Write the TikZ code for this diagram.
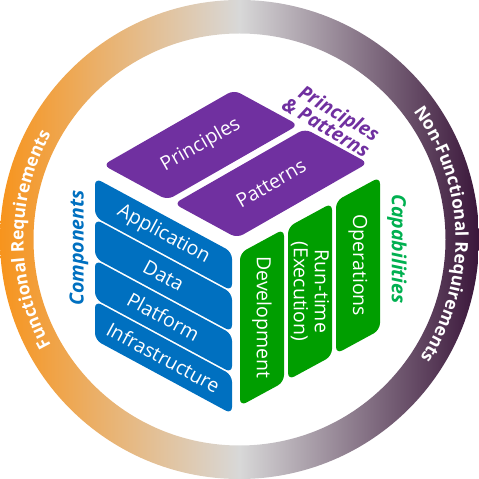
\documentclass[tikz,border=0pt]{standalone}
\usepackage{fontspec}
\setmainfont{Open Sans}
\usetikzlibrary{decorations.text}

\begin{document}
\begin{tikzpicture}[x=1pt,y=1pt,
  slabtext/.style={text=white,font=\fontsize{19.5}{21}\selectfont,inner sep=0pt},
  sidelabel/.style={font=\fontsize{19.5}{19}\selectfont\bfseries\itshape,inner sep=0pt},
  ringtext/.style={decorate,decoration={text along path,text align=center,text color=white,text={#1}}}]
%
\useasboundingbox (0,0) rectangle (479,479);
%
\definecolor{cring0}{RGB}{247,148,29}
\definecolor{cring1}{RGB}{216,216,216}
\definecolor{cring2}{RGB}{58,22,58}
\definecolor{cblue}{RGB}{0,112,192}
\definecolor{cgreen}{RGB}{0,158,0}
\definecolor{cpurple}{RGB}{112,48,160}
\definecolor{clgreen}{RGB}{0,176,80}
\newfontface\ringfont{Open Sans Bold}
%
% ring
\coordinate (c) at (239.5,239.5);
\shade[even odd rule,left color=cring0,right color=cring2,middle color=cring1]
  (c) circle (239.5) (c) circle (206);
\path[ringtext={|\fontsize{17.5}{17}\ringfont|Functional Requirements}]
  (c) ++(240:216) arc[start angle=240,end angle=120,radius=216];
\path[ringtext={|\fontsize{17.5}{17}\ringfont|Non-Functional Requirements}]
  (c) ++(61.6:216) arc[start angle=61.6,end angle=-58.4,radius=216];
%
% top face
\fill[cpurple,rounded corners=7pt] (167.3,279) -- (298.3,354) -- (234,389) -- (103,314) -- cycle;
\fill[cpurple,rounded corners=7pt] (237,241) -- (368,316) -- (305,350.3) -- (174,275.3) -- cycle;
\node[slabtext,rotate=29.8] (prin) at (200.7,334) {Principles};
\node[slabtext,rotate=29.8] (patt) at (271,295.7) {Patterns};
%
% left face
\foreach \k/\lbl in {0/Application,1/Data,2/Platform,3/Infrastructure}{
  \pgfmathsetmacro\ytop{227-41*\k}
  \fill[cblue,rounded corners=7pt] (232,\ytop) -- ++(-137,74) -- ++(0,-39) -- ++(137,-74) -- cycle;
  \node[slabtext,rotate=-28.4] (comp\k) at (163.5,{\ytop+17.5}) {\lbl};
}
%
% right face
\foreach \j/\lbl in {0/Development,1/{Run-time\\(Execution)},2/Operations}{
  \pgfmathsetmacro\xl{240+48*\j}
  \pgfmathsetmacro\yl{226+26.06*\j}
  \fill[cgreen,rounded corners=7pt] (\xl,\yl) -- ++(44,23.9) -- ++(0,-153) -- ++(-44,-23.9) -- cycle;
  \node[slabtext,rotate=-90,align=center] (capa\j) at ({\xl+22},{\yl+12-76.5}) {\lbl};
}
%
% labels
\node[sidelabel,text=cblue,rotate=90] (components) at (79,231) {Components};
\node[sidelabel,text=clgreen,rotate=-90] (capabilities) at (397,230) {Capabilities};
\node[sidelabel,text=cpurple,rotate=-31,align=right] (pandp) at (331,360) {Principles\\\& Patterns};
%
\end{tikzpicture}
\end{document}
